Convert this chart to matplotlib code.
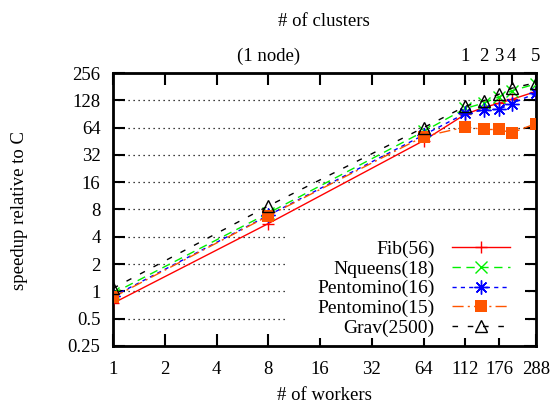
import matplotlib
matplotlib.use("Agg")
import matplotlib.pyplot as plt
from matplotlib.patches import Rectangle

plt.rcParams["font.family"] = ["Liberation Serif", "DejaVu Serif"]
plt.rcParams["font.size"] = 13.5

# ── Data ─────────────────────────────────────────────────────────────────────
workers = [1, 8, 64, 112, 144, 176, 208, 288]

fib      = [0.74, 5.6, 46, 90, 107, 119, 131, 160]
nqueens  = [0.95, 7.3, 58, 104, 120, 140, 163, 194]
pent16   = [0.88, 6.9, 53, 92, 100, 102, 118, 153]
pent15   = [0.86, 6.8, 51, 65, 61, 61, 56, 71]
grav     = [1.08, 8.75, 64, 110, 127, 150, 174, 200]

bottom_ticks = [1, 2, 4, 8, 16, 32, 64, 112, 176, 288]
top_ticks    = [1, 2, 4, 8, 16, 32, 64, 112, 144, 176, 208, 288]
top_labels   = ["", "", "", "(1 node)", "", "", "", "1", "2", "3", "4", "5"]
y_ticks      = [0.25, 0.5, 1, 2, 4, 8, 16, 32, 64, 128, 256]
y_labels     = ["0.25", "0.5", "1", "2", "4", "8", "16", "32", "64", "128", "256"]

# ── Figure ───────────────────────────────────────────────────────────────────
W, H = 552, 403
fig = plt.figure(figsize=(W / 100, H / 100), dpi=100)
ax = fig.add_axes([113 / W, 1 - 346 / H, (536 - 113) / W, (346 - 73) / H])

ax.set_xscale("log", base=2)
ax.set_yscale("log", base=2)
ax.set_xlim(1, 288)
ax.set_ylim(0.25, 256)
ax.set_axisbelow(True)

ax.plot(workers, fib, color="#ff0000", lw=1, marker="+", ms=9, mew=1,
        label="Fib(56)", zorder=3)
ax.plot(workers, nqueens, color="#00f000", lw=1, ls=(0, (6, 4)), marker="x",
        ms=8, mew=1, label="Nqueens(18)", zorder=3)
ax.plot(workers, pent16, color="#0000ff", lw=1, ls=(0, (3, 3)), marker=(8, 2, 0),
        ms=10, mew=1, label="Pentomino(16)", zorder=3)
ax.plot(workers, pent15, color="#ff5500", lw=1, ls=(0, (8, 3, 1.5, 3)), marker="s",
        ms=8, mew=0, label="Pentomino(15)", zorder=3)
ax.plot(workers, grav, color="black", lw=1, ls=(0, (4, 7)), marker="^",
        ms=8.5, mew=1, mfc="none", label="Grav(2500)", zorder=3)

ax.set_xticks(bottom_ticks)
ax.set_xticklabels([str(t) for t in bottom_ticks])
ax.set_yticks(y_ticks)
ax.set_yticklabels(y_labels)
ax.minorticks_off()
ax.tick_params(direction="in", length=8.5, width=1.5, pad=9,
               right=True, top=False)
ax.tick_params(axis="x", pad=11)
ax.grid(axis="y", ls=(0, (1, 3)), color="black", lw=0.9)
ax.grid(axis="x", visible=False)
for s in ax.spines.values():
    s.set_linewidth(2)

# top axis: clusters
ax2 = ax.twiny()
ax2.set_xscale("log", base=2)
ax2.set_xlim(ax.get_xlim())
ax2.set_xticks(top_ticks)
ax2.set_xticklabels(top_labels)
ax2.minorticks_off()
ax2.tick_params(direction="in", length=8.5, width=1.5, pad=6)

# opaque key area
key_bg = Rectangle((287, H - 338), 238, 112, transform=None,
                   facecolor="white", edgecolor="none", zorder=1)
ax.add_patch(key_bg)

ax.legend(loc="upper right", bbox_to_anchor=(526 / W, 1 - 225 / H),
          bbox_transform=fig.transFigure, markerfirst=False, frameon=False,
          handlelength=3.0, handletextpad=0.9, labelspacing=0.1,
          borderpad=0.3, fontsize=14)

fig.text(324 / W, 1 - 22 / H, "# of clusters", ha="center", va="center")
fig.text(324 / W, 1 - 395 / H, "# of workers", ha="center", va="center")
fig.text(20 / W, 1 - 210 / H, "speedup relative to C", ha="center",
         va="center", rotation=90)

fig.savefig("out.png", dpi=100)
